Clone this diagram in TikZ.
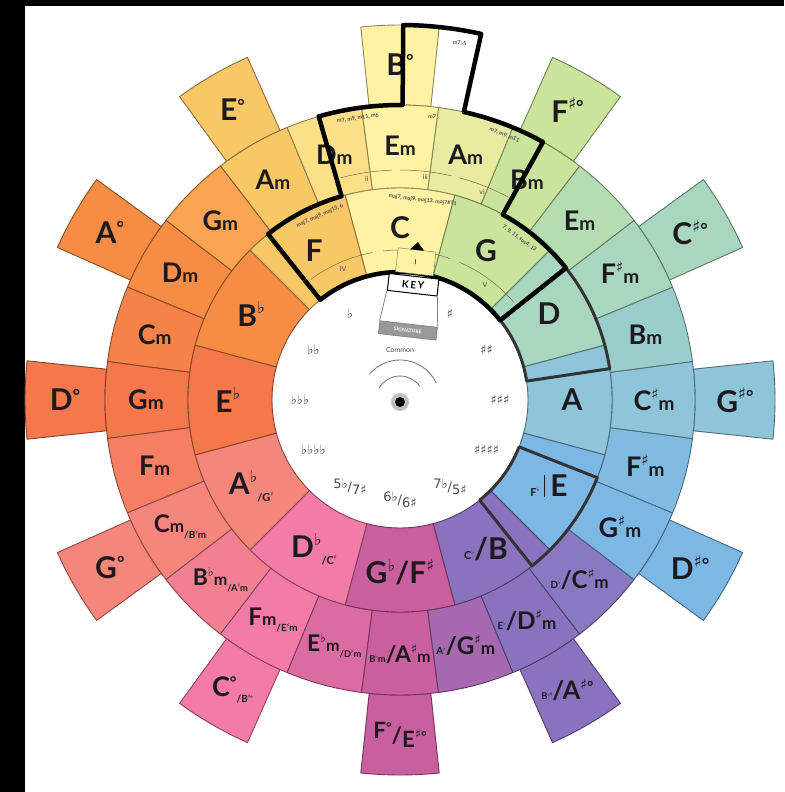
\documentclass[tikz,border=0pt]{standalone}
\usepackage{fontspec}
\setmainfont{Lato}
\newfontfamily\symf{DejaVu Sans}
\usepackage{tikz}

\definecolor{keyC}{HTML}{FFF3A3}
\definecolor{keyG}{HTML}{CBE49C}
\definecolor{keyD}{HTML}{A8D6BF}
\definecolor{keyA}{HTML}{8EC5D9}
\definecolor{keyE}{HTML}{7DB7E4}
\definecolor{keyB}{HTML}{8A72BE}
\definecolor{keyFs}{HTML}{C95F9F}
\definecolor{keyDb}{HTML}{F27BA8}
\definecolor{keyAb}{HTML}{F5867B}
\definecolor{keyEb}{HTML}{F4784B}
\definecolor{keyBb}{HTML}{F78C44}
\definecolor{keyF}{HTML}{F9C866}
\definecolor{inkdark}{HTML}{1C1A1E}

\newcommand{\flt}{\raisebox{0.8ex}{\scalebox{0.55}{\symf ♭}}}
\newcommand{\shp}{\raisebox{0.8ex}{\scalebox{0.55}{\symf ♯}}}
\newcommand{\dgr}{\raisebox{0.55ex}{\scalebox{0.6}{°}}}
\newcommand{\mnr}{{\fontsize{19}{19}\selectfont m}}
\newcommand{\smol}[1]{{\fontsize{11}{11}\selectfont #1}}
\newcommand{\lowr}[1]{\raisebox{-7pt}{\smol{#1}}}
\newcommand{\wedgecell}[5]{\path[#1] (#2:#4) arc[start angle=#2, end angle=#3, radius=#4] -- (#3:#5) arc[start angle=#3, end angle=#2, radius=#5] -- cycle;}

\begin{document}
\begin{tikzpicture}[x=1pt, y=1pt,
    cell/.style={line width=0.9pt, line join=round},
    majlbl/.style={font=\fontsize{30}{30}\selectfont\bfseries, text=inkdark, inner sep=0pt},
    minlbl/.style={font=\fontsize{27}{27}\selectfont\bfseries, text=inkdark, inner sep=0pt},
    dimlbl/.style={font=\fontsize{30}{30}\selectfont\bfseries, text=inkdark, inner sep=0pt},
    sigtxt/.style={font=\fontsize{13}{13}\selectfont\symf, text=black!70, inner sep=0pt},
    tinytxt/.style={font=\fontsize{5.5}{5.5}\selectfont\bfseries, text=black!70, inner sep=0pt},
    numtxt/.style={font=\fontsize{7}{7}\selectfont, text=black!70, inner sep=0pt},
    guide/.style={draw=black!55!keyC, line width=0.5pt},
    window/.style={draw=black, line width=4.5pt, line join=round},
    subwin/.style={draw=black!80, line width=3pt, line join=round},
    ibox/.style={draw=black!60, fill=keyC, minimum width=38, minimum height=24, inner sep=0pt, font=\fontsize{7}{7}\selectfont},
    keybox/.style={draw=black, line width=1pt, fill=white, minimum width=50, minimum height=17, inner sep=0pt, font=\fontsize{10}{10}\selectfont\bfseries},
    sigbox/.style={draw=black!60, fill=black!40, text=white, minimum width=58, minimum height=13, inner sep=0pt, font=\fontsize{5}{5}\selectfont\bfseries}
  ]
  \useasboundingbox (-400,-392) rectangle (384,400);
  \fill[white] (-400,-392) rectangle (384,400);
  % edge of the photo
  \fill[black] (-400,-392) rectangle (-375,400);
  \fill[black] (-375,394) rectangle (384,400);

  % diminished chords
  \foreach \a/\c/\t [count=\i] in {90/keyC/B\dgr, 60/keyG/F\shp\dgr, 30/keyD/C\shp\dgr, 0/keyA/G\shp\dgr,
      -30/keyE/D\shp\dgr, -60/keyB/{\scalebox{0.85}{\smol{B\flt\dgr}/A\shp\dgr}},
      -90/keyFs/{\scalebox{0.75}{\raisebox{6pt}{F\dgr}/\raisebox{-6pt}{E\shp\dgr}}},
      -120/keyDb/{\scalebox{0.9}{C\dgr\lowr{/B\shp\dgr}}},
      -150/keyAb/G\dgr, 180/keyEb/D\dgr, 150/keyBb/A\dgr, 120/keyF/E\dgr} {
    \wedgecell{cell, fill=\c, draw=\c!55!black}{\a-6}{\a+6}{295}{375}
    \node[dimlbl] (dim\i) at (\a:335) {\t};
  }

  % minor chords
  \foreach \a/\c/\t [count=\i] in {120/keyF/A\mnr, 135/keyF!40!keyBb/G\mnr, 150/keyBb/D\mnr,
      165/keyBb!50!keyEb/C\mnr, 180/keyEb/G\mnr, 195/keyEb!50!keyAb/F\mnr,
      210/keyAb/{\scalebox{0.9}{C\mnr\lowr{/B\shp m}}}, 225/keyAb!50!keyDb/{\scalebox{0.85}{B\flt\mnr\lowr{/A\shp m}}},
      240/keyDb/{\scalebox{0.9}{F\mnr\lowr{/E\shp m}}}, 255/keyDb!45!keyFs/{\scalebox{0.85}{E\flt\mnr\lowr{/D\shp m}}},
      270/keyFs/{\scalebox{0.85}{\smol{B\flt m}/A\shp\mnr}}, 285/keyFs!45!keyB/{\scalebox{0.9}{\smol{A\flt}/G\shp\mnr}},
      300/keyB/{\scalebox{0.9}{\smol{E\flt}/D\shp\mnr}}, 315/keyB!90!keyE/{\scalebox{0.9}{\smol{D\flt}/C\shp\mnr}},
      330/keyE/G\shp\mnr, 345/keyE!70!keyA/F\shp\mnr, 0/keyA/C\shp\mnr, 15/keyA!50!keyD/B\mnr,
      30/keyD/F\shp\mnr, 45/keyD!60!keyG/E\mnr, 60/keyG/B\mnr, 75/keyG!45!keyC/A\mnr,
      90/keyC/E\mnr, 105/keyC!55!keyF/D\mnr} {
    \wedgecell{cell, fill=\c, draw=\c!55!black}{\a-7.5}{\a+7.5}{212}{295}
    \node[minlbl] (min\i) at (\a:254) {\t};
  }

  % major chords
  \foreach \a/\c/\t [count=\i] in {90/keyC/C, 60/keyG/G, 30/keyD/D, 0/keyA/A,
      -30/keyE/{\smol{F\flt}\,\rule[-1pt]{0.8pt}{22pt}\,E}, -60/keyB/{\smol{C\flt}/B},
      -90/keyFs/{G\flt/F\shp}, -120/keyDb/{D\flt\lowr{/C\shp}}, -150/keyAb/{A\flt\lowr{/G\shp}},
      180/keyEb/E\flt, 150/keyBb/B\flt, 120/keyF/F} {
    \wedgecell{cell, fill=\c, draw=\c!55!black}{\a-15}{\a+15}{128}{212}
    \node[majlbl] (maj\i) at (\a:172) {\t};
  }

  % key signatures
  \foreach \a/\t [count=\i] in {60/♯, 30/♯♯, 0/♯♯♯, -30/♯♯♯♯,
      -60/{\raisebox{3pt}{7♭}/\raisebox{-3pt}{5♯}}, -90/{\raisebox{3pt}{6♭}/\raisebox{-3pt}{6♯}},
      -120/{\raisebox{3pt}{5♭}/\raisebox{-3pt}{7♯}}, -150/♭♭♭♭, 180/♭♭♭, 150/♭♭, 120/♭}
    \node[sigtxt] (sig\i) at (\a:100) {\t};

  % centre
  \node[numtxt] (common) at (0,50) {Common};
  \draw[black!55, line width=0.8pt] (140:40) arc[start angle=140, end angle=25, radius=40];
  \draw[black!55, line width=0.8pt] (150:24) arc[start angle=150, end angle=35, radius=24];
  \fill[black!25] (0,-2) circle[radius=9];
  \fill[black] (0,-2) circle[radius=5];

  % the key window, turned a little off the wheel
  \begin{scope}[rotate=-6.5]
    \foreach \a in {120,90,60}
      \draw[guide] (\a+13:150) arc[start angle=\a+13, end angle=\a-13, radius=150];
    \foreach \a in {105,90,75}
      \draw[guide] (\a+6.5:230) arc[start angle=\a+6.5, end angle=\a-6.5, radius=230];
    \node[numtxt] (num4) at (120:143) {IV};
    \node[numtxt] (num5) at (60:143) {V};
    \node[numtxt] (num2) at (105:224) {ii};
    \node[numtxt] (num3) at (90:224) {iii};
    \node[numtxt] (num6) at (75:224) {vi};

    \node[tinytxt, rotate=23.5] (extF) at (120:201) {maj7, maj9, maj13, 6};
    \node[tinytxt, rotate=-6.5] (extC) at (90:201) {maj7, maj9, maj13, maj7\#11};
    \node[tinytxt, rotate=-36.5] (extG) at (60:201) {7, 9, 11, sus4, 13};
    \node[tinytxt, rotate=8.5] (extDm) at (105:285) {m7, m9, m11, m6};
    \node[tinytxt, rotate=-6.5] (extEm) at (90:285) {m7};
    \node[tinytxt, rotate=-21.5] (extAm) at (75:285) {m7, m9, m11};
    \node[tinytxt, rotate=-3.5] (extB) at (87:362) {m7{\symf ♭}5};

    \draw[subwin] (45:128) -- (45:212) arc[start angle=45, end angle=15, radius=212]
      -- (15:128) arc[start angle=15, end angle=45, radius=128] -- cycle;
    \draw[subwin] (-15:128) -- (-15:212) arc[start angle=-15, end angle=-45, radius=212]
      -- (-45:128) arc[start angle=-45, end angle=-15, radius=128] -- cycle;

    \draw[window] (135:128) -- (135:212) arc[start angle=135, end angle=112.5, radius=212]
      -- (112.5:295) arc[start angle=112.5, end angle=96, radius=295]
      -- (96:375) arc[start angle=96, end angle=84, radius=375]
      -- (84:295) arc[start angle=84, end angle=67.5, radius=295]
      -- (67.5:212) arc[start angle=67.5, end angle=45, radius=212]
      -- (45:128) arc[start angle=45, end angle=135, radius=128] -- cycle;

    \node[ibox, rotate=-6.5] (roman) at (90:139) {I};
    \fill[black] (-7,151) -- (7,151) -- (0,159) -- cycle;
    \node[keybox, rotate=-6.5] (key) at (90:116) {K\,E\,Y};
    \node[sigbox, rotate=-6.5] (signature) at (90:70) {SIGNATURE};
    \draw[black!50, line width=0.8pt] (key.south west) -- (signature.north west);
    \draw[black!50, line width=0.8pt] (key.south east) -- (signature.north east);
  \end{scope}
\end{tikzpicture}
\end{document}
